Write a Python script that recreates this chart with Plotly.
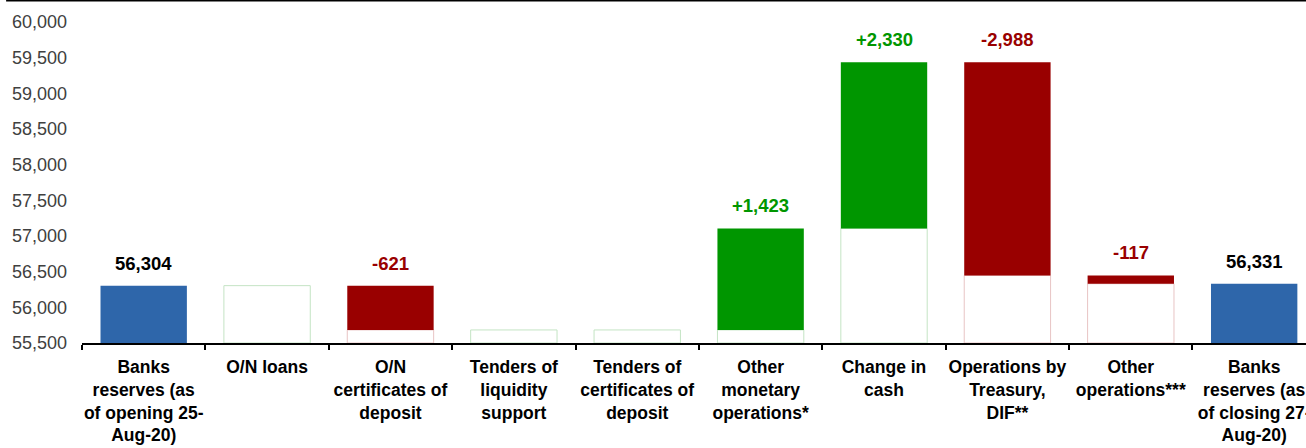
import plotly.graph_objects as go

# ---- data ----
categories = [
    "Banks<br>reserves (as<br>of opening 25-<br>Aug-20)",
    "O/N loans",
    "O/N<br>certificates of<br>deposit",
    "Tenders of<br>liquidity<br>support",
    "Tenders of<br>certificates of<br>deposit",
    "Other<br>monetary<br>operations*",
    "Change in<br>cash",
    "Operations by<br>Treasury,<br>DIF**",
    "Other<br>operations***",
    "Banks<br>reserves (as<br>of closing 27-<br>Aug-20)",
]
opening_value = 56304
changes = [0, -621, 0, 0, 1423, 2330, -2988, -117]
closing_value = 56331
y_min, y_max, y_step = 55500, 60000, 500

# ---- styles ----
BLUE = "#2E66AA"
RED = "#990000"
GREEN = "#009600"
GREEN_EDGE = "#C4E4C4"
RED_EDGE = "#E8C4C4"
FONT_BOLD = "Liberation Sans, Arial, sans-serif"

# ---- waterfall geometry from the data ----
mid_cats = categories[1:-1]
lows, highs = [], []
level = opening_value
for c in changes:
    new = level + c
    lows.append(min(level, new))
    highs.append(max(level, new))
    level = new

fig = go.Figure()

# invisible base bars with faint outline
fig.add_trace(go.Bar(
    x=mid_cats,
    base=[y_min] * len(mid_cats),
    y=[lo - y_min for lo in lows],
    marker=dict(color="white",
                line=dict(color=[RED_EDGE if c < 0 else GREEN_EDGE for c in changes], width=1)),
    width=0.7, hoverinfo="skip", showlegend=False,
))

# change bars
fig.add_trace(go.Bar(
    x=mid_cats,
    base=lows,
    y=[hi - lo for lo, hi in zip(lows, highs)],
    marker=dict(color=[RED if c < 0 else GREEN for c in changes], line=dict(width=0)),
    width=0.7, showlegend=False,
))

# totals
fig.add_trace(go.Bar(
    x=[categories[0], categories[-1]],
    base=[y_min, y_min],
    y=[opening_value - y_min, closing_value - y_min],
    marker=dict(color=BLUE, line=dict(width=0)),
    width=0.7, showlegend=False,
))

# value labels
annots = []
annots.append(dict(x=categories[0], y=opening_value, text=f"{opening_value:,}",
                   font=dict(color="black")))
for cat, c, hi in zip(mid_cats, changes, highs):
    if c == 0:
        continue
    annots.append(dict(x=cat, y=hi, text=f"{c:+,}",
                       font=dict(color=RED if c < 0 else GREEN)))
annots.append(dict(x=categories[-1], y=closing_value, text=f"{closing_value:,}",
                   font=dict(color="black")))
for a in annots:
    a.update(showarrow=False, yanchor="bottom", yshift=10, xref="x", yref="y")
    a["font"].update(family=FONT_BOLD, size=18.5, weight="bold")
    fig.add_annotation(**a)

# top rule line
fig.add_shape(type="line", xref="paper", yref="paper",
              x0=-0.062, x1=1.01, y0=1.067, y1=1.067,
              line=dict(color="black", width=2))

fig.update_layout(
    template="none",
    width=1306, height=448,
    margin=dict(l=82, r=0, t=22, b=105, autoexpand=False),
    paper_bgcolor="white", plot_bgcolor="white",
    barmode="overlay",
    xaxis=dict(
        type="category", categoryorder="array", categoryarray=categories,
        range=[-0.5, 9.42], automargin=False,
        showline=True, linecolor="black", linewidth=2,
        ticks="outside", tickson="boundaries", ticklen=5, tickwidth=2, tickcolor="black",
        ticklabelstandoff=7,
        tickfont=dict(family=FONT_BOLD, size=17.5, color="black", weight="bold"),
        tickangle=0, showgrid=False, zeroline=False,
    ),
    yaxis=dict(
        range=[y_min, y_max], tickmode="linear", tick0=y_min, dtick=y_step,
        tickformat=",d", showgrid=False, zeroline=False, showline=False,
        ticks="", ticklabelstandoff=14, automargin=False,
        tickfont=dict(family="Liberation Sans, Arial, sans-serif", size=18, color="#404040"),
    ),
)

fig.write_html(
    "out.html",
    config={"displayModeBar": False},
    post_script="document.body.style.margin='0';document.body.style.overflow='hidden';",
)
